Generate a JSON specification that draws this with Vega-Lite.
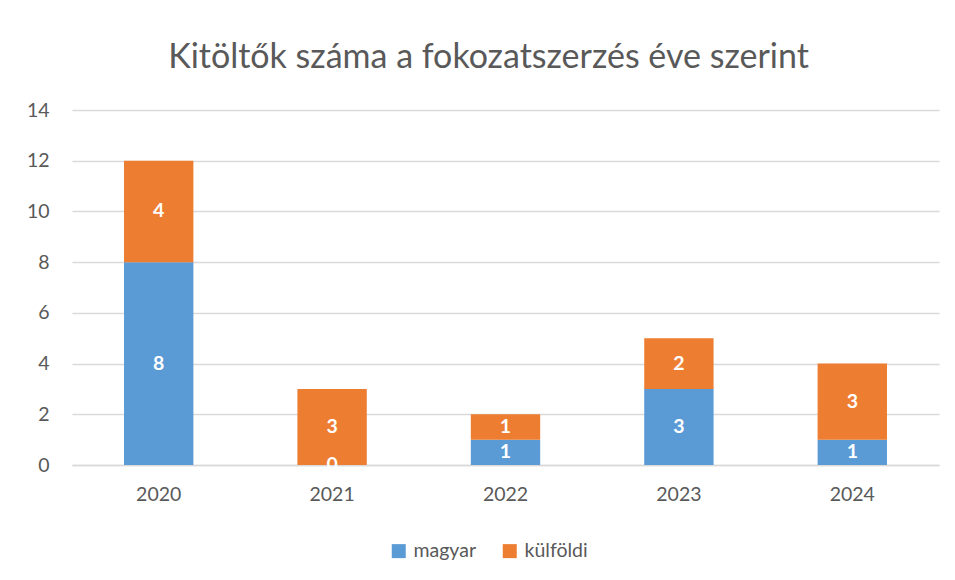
{
  "$schema": "https://vega.github.io/schema/vega-lite/v6.json",
  "width": 867,
  "height": 355,
  "autosize": {"type": "none"},
  "padding": {"left": 72, "top": 110, "right": 16, "bottom": 115},
  "background": "white",
  "title": {
    "text": "Kitöltők száma a fokozatszerzés éve szerint",
    "font": "Lato",
    "fontSize": 34,
    "fontWeight": "normal",
    "color": "#595959",
    "anchor": "middle",
    "baseline": "alphabetic",
    "offset": -2,
    "dx": -17
  },
  "config": {
    "view": {"stroke": null},
    "font": "Lato",
    "axis": {
      "labelFont": "Lato",
      "labelColor": "#595959",
      "labelFontSize": 19.5,
      "ticks": false,
      "title": null,
      "gridColor": "#d9d9d9",
      "gridWidth": 1.3
    },
    "legend": {
      "labelFont": "Lato",
      "labelColor": "#595959",
      "labelFontSize": 19.5
    }
  },
  "data": {
    "values": [
      {"year": "2020", "series": "magyar", "count": 8},
      {"year": "2020", "series": "külföldi", "count": 4},
      {"year": "2021", "series": "magyar", "count": 0},
      {"year": "2021", "series": "külföldi", "count": 3},
      {"year": "2022", "series": "magyar", "count": 1},
      {"year": "2022", "series": "külföldi", "count": 1},
      {"year": "2023", "series": "magyar", "count": 3},
      {"year": "2023", "series": "külföldi", "count": 2},
      {"year": "2024", "series": "magyar", "count": 1},
      {"year": "2024", "series": "külföldi", "count": 3}
    ]
  },
  "transform": [
    {
      "stack": "count",
      "groupby": ["year"],
      "sort": [{"field": "series", "order": "descending"}],
      "as": ["v0", "v1"]
    }
  ],
  "encoding": {
    "x": {
      "field": "year",
      "type": "nominal",
      "scale": {"paddingInner": 0.6, "paddingOuter": 0.3},
      "axis": {
        "labelAngle": 0,
        "labelPadding": 20,
        "domain": true,
        "domainColor": "#d9d9d9",
        "domainWidth": 1.6,
        "grid": false
      }
    }
  },
  "layer": [
    {
      "mark": {"type": "bar"},
      "encoding": {
        "y": {
          "field": "v0",
          "type": "quantitative",
          "scale": {"domain": [0, 14], "nice": false},
          "axis": {
            "values": [0, 2, 4, 6, 8, 10, 12, 14],
            "domain": false,
            "labelPadding": 23,
            "grid": true
          }
        },
        "y2": {"field": "v1"},
        "color": {
          "field": "series",
          "type": "nominal",
          "scale": {"domain": ["magyar", "külföldi"], "range": ["#5B9BD5", "#ED7D31"]},
          "legend": {
            "title": null,
            "orient": "none",
            "direction": "horizontal",
            "legendX": 317,
            "legendY": 431,
            "symbolType": "square",
            "symbolSize": 196,
            "symbolStrokeWidth": 0,
            "labelOffset": 5,
            "columnPadding": 23,
            "padding": 0
          }
        }
      }
    },
    {
      "transform": [
        {"fold": ["v0", "v1"], "as": ["edge", "pos"]},
        {"aggregate": [{"op": "mean", "field": "pos", "as": "mid"}], "groupby": ["year", "series", "count"]}
      ],
      "mark": {
        "type": "text",
        "color": "white",
        "font": "Lato",
        "fontSize": 19.5,
        "fontWeight": "bold",
        "baseline": "middle",
        "align": "center"
      },
      "encoding": {
        "y": {"field": "mid", "type": "quantitative"},
        "text": {"field": "count", "type": "quantitative"}
      }
    }
  ]
}
